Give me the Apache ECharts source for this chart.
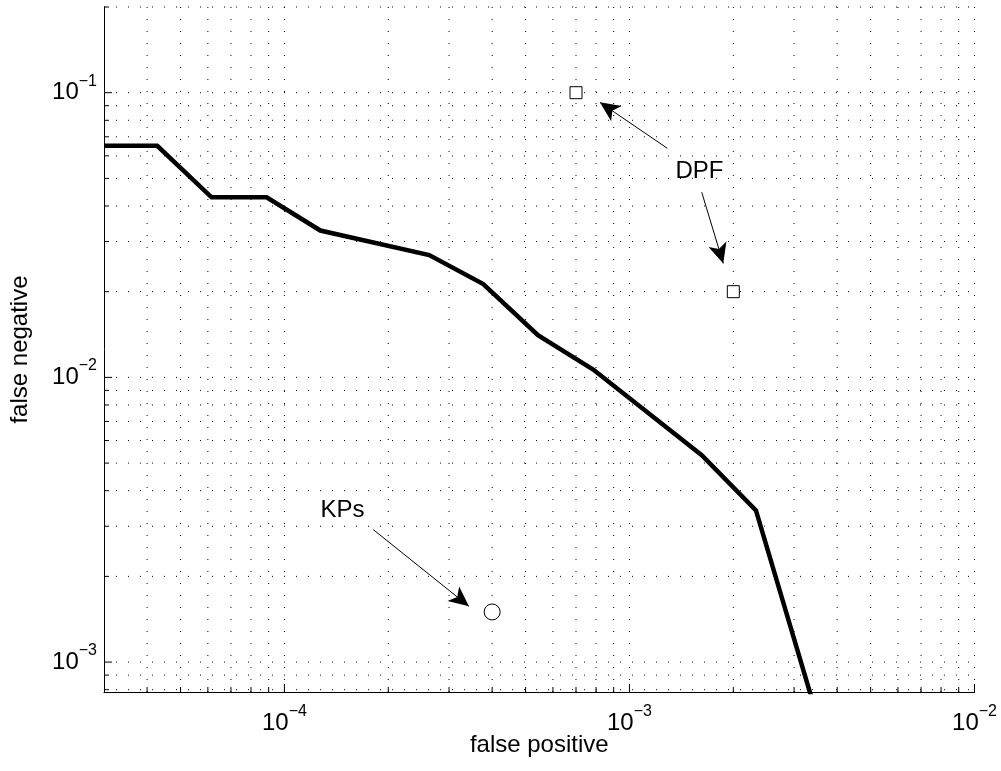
<!DOCTYPE html>
<html>
<head>
<meta charset="utf-8">
<script src="https://cdn.jsdelivr.net/npm/echarts@6/dist/echarts.min.js"></script>
<style>
html,body{margin:0;padding:0;background:#fff;}
#chart{width:1001px;height:771px;}
</style>
</head>
<body>
<div id="chart"></div>
<script>
// ---- data ----
const X_MIN = 3e-5, X_MAX = 1e-2;
const Y_MIN = 7.85e-4, Y_MAX = 0.2;

const xMajorTicks = [1e-4, 1e-3, 1e-2];
const xMinorTicks = [4e-5, 5e-5, 6e-5, 7e-5, 8e-5, 9e-5,
  2e-4, 3e-4, 4e-4, 5e-4, 6e-4, 7e-4, 8e-4, 9e-4,
  2e-3, 3e-3, 4e-3, 5e-3, 6e-3, 7e-3, 8e-3, 9e-3];
const yMajorTicks = [1e-3, 1e-2, 1e-1];
const yMinorTicks = [8e-4, 9e-4,
  2e-3, 3e-3, 4e-3, 5e-3, 6e-3, 7e-3, 8e-3, 9e-3,
  2e-2, 3e-2, 4e-2, 5e-2, 6e-2, 7e-2, 8e-2, 9e-2, 2e-1];

const curveFP = [3e-5, 4.28e-5, 6.15e-5, 8.88e-5, 1.271e-4, 2.628e-4, 3.77e-4, 5.43e-4, 7.85e-4, 1.62e-3, 2.326e-3, 3.525e-3];
const curveFN = [0.0651, 0.0651, 0.0429, 0.0429, 0.0328, 0.0269, 0.02127, 0.01407, 0.01066, 5.33e-3, 3.41e-3, 6.24e-4];

const dpfPoints = [[7e-4, 0.1], [2e-3, 0.02]];
const kpsPoints = [[4e-4, 1.5e-3]];

const annotationTexts = [[1.596e-3, 0.0528, 'DPF'], [1.473e-4, 3.41e-3, 'KPs']];
const arrowLines = [
  [[1.287e-3, 0.0638], [8.21e-4, 0.0925]],
  [[1.62e-3, 0.0447], [1.87e-3, 0.02514]],
  [[1.809e-4, 2.92e-3], [3.426e-4, 1.57e-3]]
];

// ---- chart ----
const FONT = "'Liberation Sans', Arial, Helvetica, sans-serif";
const chart = echarts.init(document.getElementById('chart'), null, {renderer: 'canvas'});

function powLabel(v) {
  const e = Math.log10(v);
  const r = Math.round(e);
  if (Math.abs(e - r) > 1e-6) return '';
  return '{b|10}{s|' + (r < 0 ? '\u2212' : '') + Math.abs(r) + '}';
}
const richLabel = {
  b: {fontSize: 24, fontFamily: FONT, color: '#000', verticalAlign: 'middle'},
  s: {fontSize: 16, fontFamily: FONT, color: '#000', padding: [0, 0, 23, 0], verticalAlign: 'middle'}
};

function vLine(dashed, len) {
  return function (params, api) {
    const v = api.value(0);
    const p0 = api.coord([v, Y_MIN]);
    const p1 = dashed ? api.coord([v, Y_MAX]) : [p0[0], p0[1] - len];
    return {type: 'line', shape: {x1: p0[0], y1: p0[1], x2: p1[0], y2: p1[1]},
      style: {stroke: '#000', lineWidth: 1, lineDash: dashed ? [1, 11] : null}, silent: true};
  };
}
function hLine(dashed, len) {
  return function (params, api) {
    const v = api.value(1);
    const p0 = api.coord([X_MIN, v]);
    const p1 = dashed ? api.coord([X_MAX, v]) : [p0[0] + len, p0[1]];
    return {type: 'line', shape: {x1: p0[0], y1: p0[1], x2: p1[0], y2: p1[1]},
      style: {stroke: '#000', lineWidth: 1, lineDash: dashed ? [1, 11] : null}, silent: true};
  };
}

const xGridVals = xMajorTicks.concat(xMinorTicks);
const yGridVals = yMajorTicks.concat(yMinorTicks);

chart.setOption({
  animation: false,
  backgroundColor: '#fff',
  grid: {left: 104, top: 7, right: 26.5, bottom: 79, containLabel: false, outerBoundsMode: 'none'},
  xAxis: {
    type: 'log', logBase: 10, min: X_MIN, max: X_MAX,
    name: 'false positive', nameLocation: 'middle', nameGap: 41, nameMoveOverlap: false,
    nameTextStyle: {fontSize: 24, fontFamily: FONT, color: '#000'},
    axisLine: {show: true, lineStyle: {color: '#000', width: 1}},
    axisTick: {show: false},
    splitLine: {show: false},
    minorTick: {show: false}, minorSplitLine: {show: false},
    axisLabel: {formatter: powLabel, rich: richLabel, margin: 12, hideOverlap: false, showMinLabel: true, showMaxLabel: true}
  },
  yAxis: {
    type: 'log', logBase: 10, min: Y_MIN, max: Y_MAX,
    name: 'false negative', nameLocation: 'middle', nameGap: 72, nameMoveOverlap: false,
    nameTextStyle: {fontSize: 24, fontFamily: FONT, color: '#000'},
    axisLine: {show: true, lineStyle: {color: '#000', width: 1}},
    axisTick: {show: false},
    splitLine: {show: false},
    minorTick: {show: false}, minorSplitLine: {show: false},
    axisLabel: {formatter: powLabel, rich: richLabel, margin: 7, hideOverlap: false}
  },
  series: [
    {type: 'custom', name: 'xgrid', z: 1, renderItem: vLine(true), data: xGridVals.map(v => [v, Y_MIN])},
    {type: 'custom', name: 'ygrid', z: 1, renderItem: hLine(true), data: yGridVals.map(v => [X_MIN, v])},
    {type: 'custom', name: 'xmajor', z: 2, renderItem: vLine(false, 8), data: xMajorTicks.map(v => [v, Y_MIN])},
    {type: 'custom', name: 'xminor', z: 2, renderItem: vLine(false, 5), data: xMinorTicks.map(v => [v, Y_MIN])},
    {type: 'custom', name: 'ymajor', z: 2, renderItem: hLine(false, 8), data: yMajorTicks.map(v => [X_MIN, v])},
    {type: 'custom', name: 'yminor', z: 2, renderItem: hLine(false, 5), data: yMinorTicks.map(v => [X_MIN, v])},
    {
      type: 'line', name: 'curve', z: 3, clip: true, symbol: 'none',
      lineStyle: {color: '#000', width: 4.5, join: 'miter', opacity: 1},
      data: curveFP.map((x, i) => [x, curveFN[i]])
    },
    {
      type: 'scatter', name: 'DPF', z: 4, symbol: 'rect', symbolSize: 12,
      itemStyle: {color: '#fff', borderColor: '#000', borderWidth: 1, opacity: 1},
      data: dpfPoints,
      markLine: {
        silent: true, animation: false,
        symbol: ['none', 'arrow'], symbolSize: [14, 20], symbolOffset: 0,
        lineStyle: {color: '#000', width: 1, type: 'solid', opacity: 1},
        itemStyle: {color: '#000', opacity: 1},
        label: {show: false},
        emphasis: {disabled: true},
        data: arrowLines.map(a => [{coord: a[0]}, {coord: a[1]}])
      }
    },
    {
      type: 'scatter', name: 'KPs', z: 4, symbol: 'circle', symbolSize: 16,
      itemStyle: {color: '#fff', borderColor: '#000', borderWidth: 1, opacity: 1},
      data: kpsPoints
    },
    {
      type: 'scatter', name: 'annotations', z: 5, symbolSize: 1,
      itemStyle: {color: 'transparent', opacity: 1},
      label: {show: true, position: 'inside', formatter: p => p.value[2],
        fontSize: 24, fontFamily: FONT, color: '#000', opacity: 1},
      data: annotationTexts
    }
  ]
});
</script>
</body>
</html>
